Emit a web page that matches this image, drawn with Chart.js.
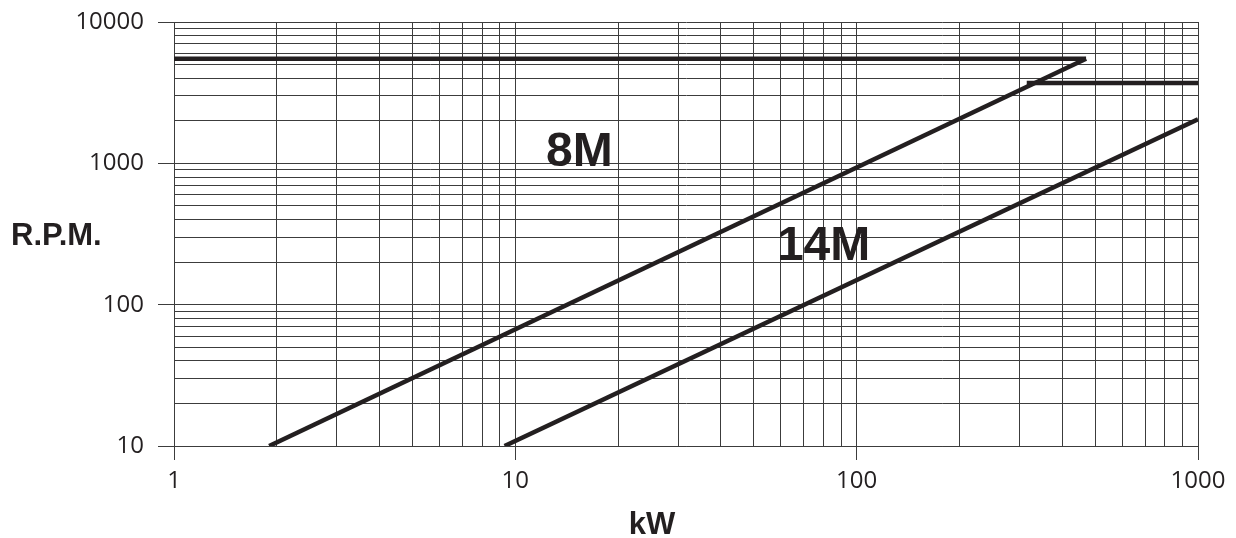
<!DOCTYPE html>
<html lang="en">
<head>
<meta charset="UTF-8" />
<title>R.P.M. vs kW</title>
<script src="https://cdn.jsdelivr.net/npm/chart.js"></script>
<style>
  html, body { margin: 0; padding: 0; background: #fff; }
</style>
</head>
<body>
<canvas id="chart" width="1236" height="538"></canvas>
<script>
  // curves (kW -> R.P.M.)
  const topLimitKW  = [1, 470];
  const topLimitRPM = [5500, 5500];
  const belt8mKW    = [1.9, 470];
  const belt8mRPM   = [10, 5500];
  const lowLimitKW  = [315, 1000];
  const lowLimitRPM = [3700, 3700];
  const belt14mKW   = [9.3, 1000];
  const belt14mRPM  = [10, 2050];

  const xLabels = [1, 10, 100, 1000];
  const yLabels = [10, 100, 1000, 10000];

  const curveNames   = ['8M', '14M'];
  const curveNameKW  = [15.4, 80];
  const curveNameRPM = [1180, 255];

  const ink = '#231f20';
  const gridColor = '#3c3c3c';
  const tickFont = { family: "'Open Sans', 'Noto Sans', sans-serif", size: 24 };
  const boldFont = "'Liberation Sans', Arial, sans-serif";

  // 1..9 per decade, like log paper
  function logGrid(majors) {
    const out = [];
    for (let i = 0; i < majors.length - 1; i++) {
      for (let m = 1; m < 10; m++) out.push(majors[i] * m);
    }
    out.push(majors[majors.length - 1]);
    return out;
  }
  const xGrid = logGrid(xLabels);
  const yGrid = logGrid(yLabels);

  function line(xs, ys) {
    return {
      data: xs.map((x, i) => ({ x: x, y: ys[i] })),
      borderColor: ink,
      borderWidth: 4.5,
      borderCapStyle: 'butt',
      pointRadius: 0,
      fill: false,
      tension: 0
    };
  }

  const textLabels = {
    id: 'textLabels',
    afterDatasetsDraw(chart) {
      const { ctx, scales: { x, y } } = chart;
      ctx.save();
      ctx.fillStyle = ink;
      ctx.font = 'bold 48px ' + boldFont;
      ctx.textAlign = 'center';
      ctx.textBaseline = 'middle';
      curveNames.forEach((name, i) => {
        ctx.fillText(name, x.getPixelForValue(curveNameKW[i]), y.getPixelForValue(curveNameRPM[i]));
      });
      ctx.textBaseline = 'alphabetic';
      ctx.font = 'bold 31px ' + boldFont;
      ctx.textAlign = 'left';
      ctx.fillText('R.P.M.', 11, 245);
      ctx.font = 'bold 31px ' + boldFont;
      ctx.textAlign = 'center';
      ctx.fillText('kW', 652, 534);
      ctx.restore();
    }
  };

  new Chart(document.getElementById('chart'), {
    type: 'line',
    data: {
      datasets: [
        line(topLimitKW, topLimitRPM),
        line(belt8mKW, belt8mRPM),
        line(lowLimitKW, lowLimitRPM),
        line(belt14mKW, belt14mRPM)
      ]
    },
    options: {
      responsive: false,
      animation: false,
      layout: { padding: { top: 22, right: 38, left: 0, bottom: 0 } },
      plugins: { legend: { display: false }, tooltip: { enabled: false } },
      scales: {
        x: {
          type: 'logarithmic',
          min: 1,
          max: 1000,
          afterBuildTicks: s => { s.ticks = xGrid.map(v => ({ value: v })); },
          afterFit: s => { s.height = 92; },
          border: { color: gridColor, width: 1 },
          grid: {
            color: gridColor,
            lineWidth: 1,
            tickLength: 14,
            tickColor: c => xLabels.includes(c.tick.value) ? gridColor : 'rgba(0,0,0,0)'
          },
          ticks: {
            autoSkip: false,
            maxRotation: 0,
            padding: 7,
            color: ink,
            font: tickFont,
            callback: v => xLabels.includes(v) ? String(v) : ''
          }
        },
        y: {
          type: 'logarithmic',
          min: 10,
          max: 10000,
          afterBuildTicks: s => { s.ticks = yGrid.map(v => ({ value: v })); },
          afterFit: s => { s.width = 174; s.paddingTop = 0; s.paddingBottom = 0; },
          border: { color: gridColor, width: 1 },
          grid: {
            color: gridColor,
            lineWidth: 1,
            tickLength: 16,
            tickColor: c => yLabels.includes(c.tick.value) ? gridColor : 'rgba(0,0,0,0)'
          },
          ticks: {
            autoSkip: false,
            padding: 14,
            color: ink,
            font: tickFont,
            callback: v => yLabels.includes(v) ? String(v) : ''
          }
        }
      }
    },
    plugins: [textLabels]
  });
</script>
</body>
</html>
